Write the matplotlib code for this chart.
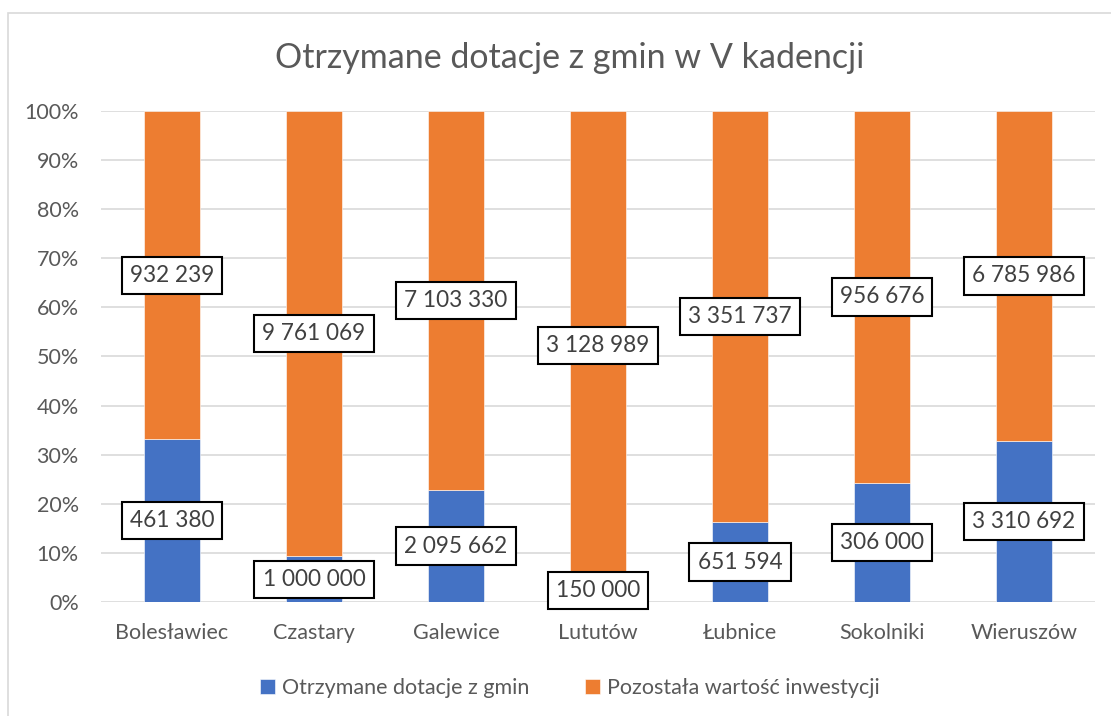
import matplotlib.pyplot as plt
from matplotlib.patches import Rectangle
import numpy as np

gminy = ['Bolesławiec', 'Czastary', 'Galewice', 'Lututów', 'Łubnice', 'Sokolniki', 'Wieruszów']
dotacje = [461380, 1000000, 2095662, 150000, 651594, 306000, 3310692]
pozostala = [932239, 9761069, 7103330, 3128989, 3351737, 956676, 6785986]
yticks = [0, 10, 20, 30, 40, 50, 60, 70, 80, 90, 100]

plt.rcParams['font.family'] = ['Lato', 'DejaVu Sans']

def fmt(v):
    return '{:,}'.format(v).replace(',', ' ')

d = np.array(dotacje, dtype=float)
p = np.array(pozostala, dtype=float)
tot = d + p
d_pct = d / tot * 100
p_pct = p / tot * 100

fig = plt.figure(figsize=(11.11, 7.16), dpi=100)
ax = fig.add_axes([0.0909, 0.1592, 0.8947, 0.6858])

# ramka wykresu
fig.patches.append(Rectangle((0.0072, -0.05), 1.2, 1.032, transform=fig.transFigure,
                             fill=False, edgecolor='#d9d9d9', linewidth=1.2))

x = np.arange(len(gminy))
b1 = ax.bar(x, d_pct, width=0.4, color='#4472C4', edgecolor='white', linewidth=0.4,
            label='Otrzymane dotacje z gmin', zorder=3)
b2 = ax.bar(x, p_pct, width=0.4, bottom=d_pct, color='#ED7D31', edgecolor='white', linewidth=0.4,
            label='Pozostała wartość inwestycji', zorder=3)

box = dict(boxstyle='square,pad=0.36', facecolor='white', edgecolor='black', linewidth=1.5)
for i in range(len(gminy)):
    ax.text(x[i], d_pct[i] / 2, fmt(dotacje[i]), ha='center', va='center', fontsize=16.3,
            color='#404040', bbox=box, zorder=5)
    ax.text(x[i], d_pct[i] + p_pct[i] / 2, fmt(pozostala[i]), ha='center', va='center', fontsize=16.3,
            color='#404040', bbox=box, zorder=5)

ax.set_xlim(-0.5, len(gminy) - 0.5)
ax.set_ylim(0, 100)
ax.set_yticks(yticks)
ax.set_yticklabels([str(t) + '%' for t in yticks])
ax.set_xticks(x)
ax.set_xticklabels(gminy)
ax.tick_params(axis='both', length=0, labelsize=15.5, labelcolor='#595959')
ax.tick_params(axis='x', pad=15)
ax.tick_params(axis='y', pad=16)
ax.grid(axis='y', color='#d9d9d9', linewidth=1.2, zorder=0)
for s in ax.spines.values():
    s.set_visible(False)

fig.text(0.513, 0.919, 'Otrzymane dotacje z gmin w V kadencji', ha='center', va='center',
         fontsize=24.5, color='#595959')

fig.legend(handles=[b1, b2], loc='center', bbox_to_anchor=(0.513, 0.039), ncol=2, frameon=False,
           fontsize=15.5, labelcolor='#595959', handlelength=0.7, handleheight=0.7,
           handletextpad=0.3, columnspacing=2.6)

fig.savefig('out.png', dpi=100)
